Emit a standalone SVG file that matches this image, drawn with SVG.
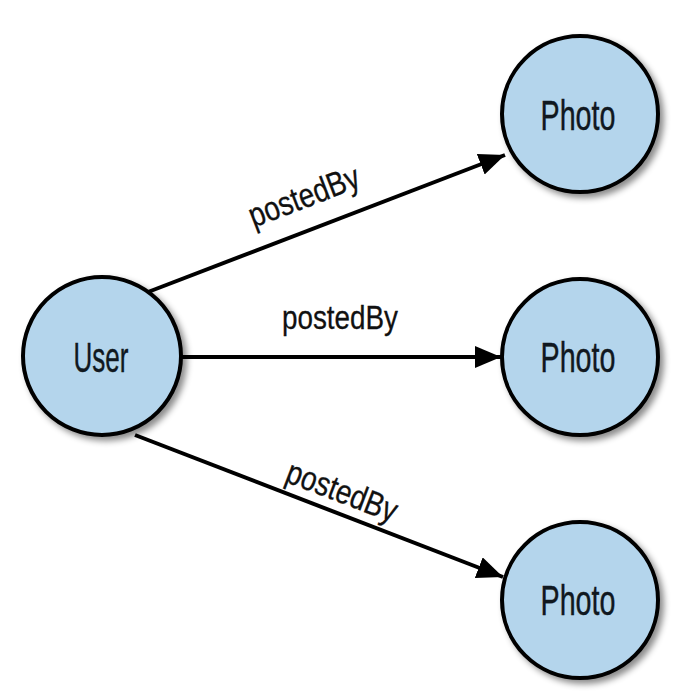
<svg xmlns="http://www.w3.org/2000/svg" width="684" height="700" viewBox="0 0 684 700">
<defs>
<filter id="sh" x="-20%" y="-20%" width="150%" height="150%">
<feDropShadow dx="4" dy="4" stdDeviation="3" flood-color="#000" flood-opacity="0.45"/>
</filter>
<marker id="arr" markerUnits="userSpaceOnUse" markerWidth="30" markerHeight="24" refX="26" refY="11" orient="auto">
<path d="M0,0 L26,11 L0,22 Z" fill="#000"/>
</marker>
<style>
.node circle{fill:#b4d5ec;stroke:#000;stroke-width:4;filter:url(#sh)}
.node text{font-family:"Liberation Sans",Arial,sans-serif;font-size:43px;fill:#101820;stroke:#101820;stroke-width:0.4;text-anchor:middle}
.edge{stroke:#000;stroke-width:4;fill:none;marker-end:url(#arr)}
.lbl{font-family:"Liberation Sans",Arial,sans-serif;font-size:34px;fill:#111;stroke:#111;stroke-width:0.3;text-anchor:middle}
</style>
</defs>
<rect width="684" height="700" fill="#fff"/>
<g id="connectors">
<line class="edge" x1="148" y1="292" x2="505" y2="155"/>
<line class="edge" x1="182" y1="357" x2="501" y2="357"/>
<line class="edge" x1="135" y1="435" x2="503" y2="577"/>
<text class="lbl" transform="translate(308,207) rotate(-21)" textLength="116" lengthAdjust="spacingAndGlyphs">postedBy</text>
<text class="lbl" x="340" y="329" textLength="116" lengthAdjust="spacingAndGlyphs">postedBy</text>
<text class="lbl" transform="translate(338,502) rotate(21)" textLength="116" lengthAdjust="spacingAndGlyphs">postedBy</text>
</g>
<g id="user" class="node">
<circle cx="102" cy="356" r="79"/>
<text x="101" y="372" textLength="55" lengthAdjust="spacingAndGlyphs">User</text>
</g>
<g id="photo1" class="node">
<circle cx="580" cy="114" r="78"/>
<text x="578" y="130" textLength="75" lengthAdjust="spacingAndGlyphs">Photo</text>
</g>
<g id="photo2" class="node">
<circle cx="580" cy="357" r="78"/>
<text x="578" y="372" textLength="75" lengthAdjust="spacingAndGlyphs">Photo</text>
</g>
<g id="photo3" class="node">
<circle cx="580" cy="600" r="78"/>
<text x="578" y="615" textLength="75" lengthAdjust="spacingAndGlyphs">Photo</text>
</g>
</svg>
